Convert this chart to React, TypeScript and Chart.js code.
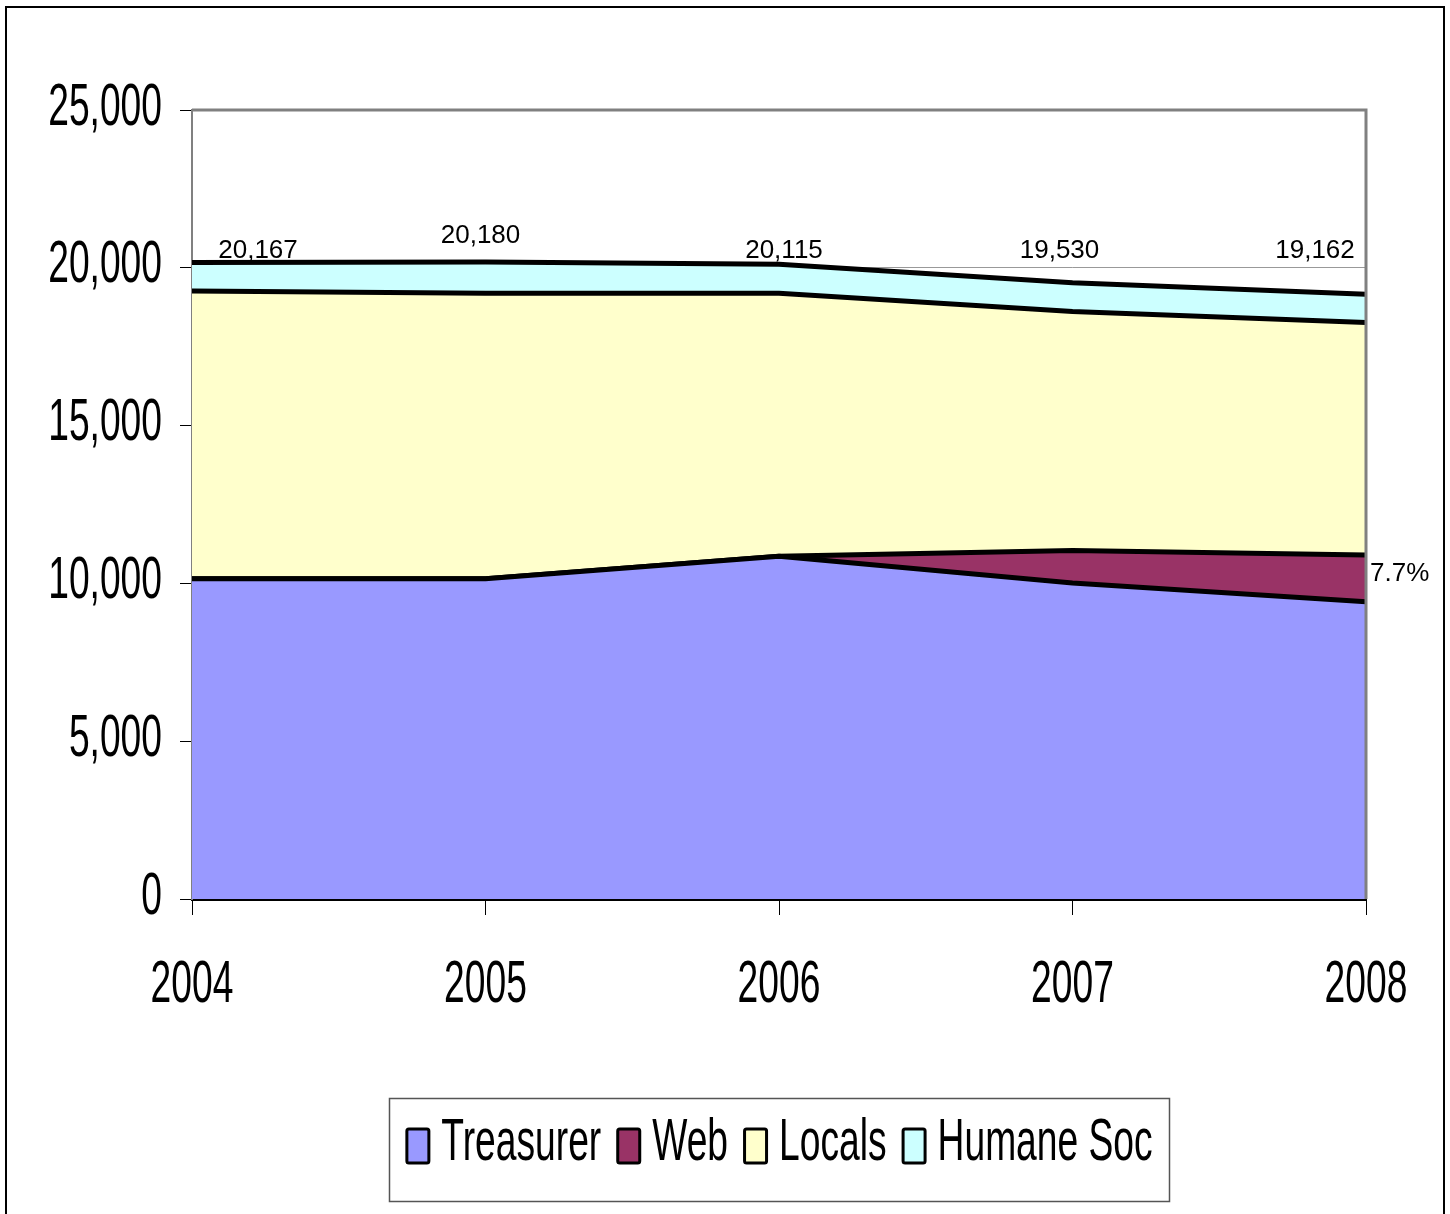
import React, { useEffect, useRef } from "react";
import { Chart, registerables } from "chart.js";

Chart.register(...registerables);

const years = ["2004", "2005", "2006", "2007", "2008"];
const treasurer = [10150, 10150, 10860, 10010, 9420];
const web = [0, 0, 0, 1030, 1480];
const locals = [9117, 9040, 8330, 7575, 7367];
const humaneSoc = [900, 990, 925, 915, 895];
const totalLabels = ["20,167", "20,180", "20,115", "19,530", "19,162"];
const webShareLabel = "7.7%";
const yTicks = [0, 5000, 10000, 15000, 20000, 25000];

const seriesNames = ["Treasurer", "Web", "Locals", "Humane Soc"];
const seriesColors = ["#9999FF", "#993366", "#FFFFCC", "#CCFFFF"];

// label placement tweaks (pixels), relative to the category / 20,000 line
const totalDx = [66, -5, 5, -13, -51];
const totalDy = [-17, -32, -17, -17, -17];

const REGULAR = '"Liberation Sans", Arial, sans-serif';
const SX = 0.62;

function drawScaledText(ctx: CanvasRenderingContext2D, text: string, x: number, y: number, align: CanvasTextAlign, size: number) {
  ctx.save();
  ctx.translate(x, y);
  ctx.scale(SX, 1);
  ctx.font = `${size}px ${REGULAR}`;
  ctx.textAlign = align;
  ctx.textBaseline = "middle";
  ctx.fillStyle = "#000";
  ctx.fillText(text, 0, 0);
  ctx.restore();
}

const overlayPlugin = {
  id: "overlay",
  afterDraw(chart: any) {
    const ctx: CanvasRenderingContext2D = chart.ctx;
    const area = chart.chartArea;
    const xs = chart.scales.x;
    const ys = chart.scales.y;

    // plot frame: top and right in gray
    ctx.save();
    ctx.strokeStyle = "#808080";
    ctx.lineWidth = 3;
    ctx.beginPath();
    ctx.moveTo(area.left, area.top);
    ctx.lineTo(area.right, area.top);
    ctx.lineTo(area.right, area.bottom);
    ctx.stroke();
    ctx.restore();

    // y tick labels
    yTicks.forEach((v) => {
      drawScaledText(ctx, v.toLocaleString("en-US"), area.left - 30, ys.getPixelForValue(v) - 2, "right", 60);
    });
    // x tick labels
    years.forEach((yr, i) => {
      drawScaledText(ctx, yr, xs.getPixelForValue(i), area.bottom + 86, "center", 60);
    });

    // total labels
    ctx.save();
    ctx.font = `26px ${REGULAR}`;
    ctx.fillStyle = "#000";
    ctx.textAlign = "center";
    ctx.textBaseline = "middle";
    const base = ys.getPixelForValue(20000);
    totalLabels.forEach((t, i) => {
      ctx.fillText(t, xs.getPixelForValue(i) + totalDx[i], base + totalDy[i]);
    });
    // web share label at 2008
    const last = years.length - 1;
    const webMid = ys.getPixelForValue(treasurer[last] + web[last] / 2);
    ctx.textAlign = "left";
    ctx.fillText(webShareLabel, xs.getPixelForValue(last) + 4, webMid - 5);
    ctx.restore();

    // legend
    const cx = (area.left + area.right) / 2;
    const boxW = 780;
    const boxH = 103;
    const boxTop = area.bottom + 199;
    ctx.save();
    ctx.strokeStyle = "#555";
    ctx.lineWidth = 1.5;
    ctx.strokeRect(Math.round(cx - boxW / 2) + 0.5, boxTop + 0.5, boxW, boxH);
    ctx.font = `60px ${REGULAR}`;
    const swW = 25, swH = 37, gap = 11, itemGap = 15;
    const widths = seriesNames.map((n) => ctx.measureText(n).width * SX);
    const total = widths.reduce((a, b) => a + b, 0) + seriesNames.length * (swW + gap) + (seriesNames.length - 1) * itemGap;
    let x = cx - total / 2;
    const midY = boxTop + 48;
    seriesNames.forEach((n, i) => {
      ctx.fillStyle = seriesColors[i];
      ctx.strokeStyle = "#000";
      ctx.lineWidth = 3;
      ctx.beginPath();
      (ctx as any).roundRect ? (ctx as any).roundRect(x + 1.5, midY - swH / 2 + 1.5, swW - 3, swH - 3, 2) : ctx.rect(x + 1.5, midY - swH / 2 + 1.5, swW - 3, swH - 3);
      ctx.fill();
      ctx.stroke();
      x += swW + gap;
      drawScaledText(ctx, n, x, midY - 3, "left", 60);
      x += widths[i] + itemGap;
    });
    ctx.restore();

    // outer frame
    ctx.save();
    ctx.strokeStyle = "#000";
    ctx.lineWidth = 2;
    ctx.strokeRect(6, 7, 1438, 1230);
    ctx.restore();
  },
};

export default function App() {
  const ref = useRef<HTMLCanvasElement>(null);
  useEffect(() => {
    if (!ref.current) return;
    const seriesData = [treasurer, web, locals, humaneSoc];
    const chart = new Chart(ref.current, {
      type: "line",
      data: {
        labels: years,
        datasets: seriesData.map((d, i) => ({
          label: seriesNames[i],
          data: d,
          backgroundColor: seriesColors[i],
          borderColor: "#000",
          borderWidth: 5,
          pointRadius: 0,
          tension: 0,
          fill: i === 0 ? "origin" : "-1",
        })),
      },
      options: {
        responsive: false,
        animation: false,
        devicePixelRatio: 1,
        layout: { padding: { left: 180, top: 110, right: 84, bottom: 299 } },
        plugins: {
          legend: { display: false },
          tooltip: { enabled: false },
        },
        scales: {
          x: {
            offset: false,
            ticks: { display: false },
            grid: { drawOnChartArea: false, drawTicks: true, tickLength: 16, tickColor: "#000", lineWidth: 1 },
            border: { display: true, color: "#000", width: 3 },
            afterFit: (s: any) => { s.height = 16; },
          },
          y: {
            stacked: true,
            min: 0,
            max: 25000,
            ticks: { display: false, stepSize: 5000 },
            grid: { color: "#999", lineWidth: 1, drawTicks: true, tickLength: 12, tickColor: "#000" },
            border: { display: true, color: "#808080", width: 2 },
            afterFit: (s: any) => { s.width = 12; },
          },
        },
      },
      plugins: [overlayPlugin],
    });
    return () => chart.destroy();
  }, []);
  return (
    <div style={{ position: "absolute", left: 0, top: 0, width: 1450, height: 1214, background: "#fff" }}>
      <canvas ref={ref} width={1450} height={1214} style={{ display: "block" }} />
    </div>
  );
}
